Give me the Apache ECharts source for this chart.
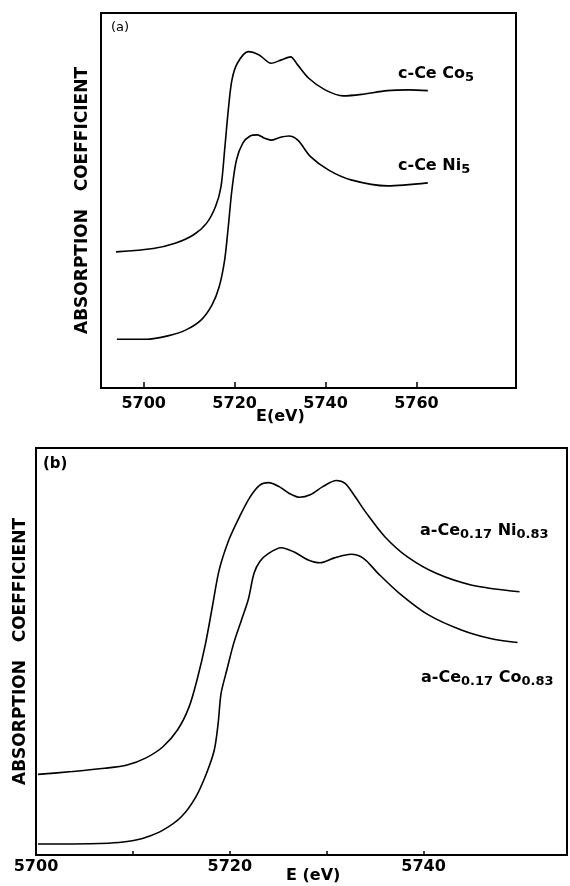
<!DOCTYPE html>
<html>
<head>
<meta charset="utf-8">
<script src="https://cdn.jsdelivr.net/npm/echarts@6/dist/echarts.min.js"></script>
<style>
    html, body { margin: 0; padding: 0; background: #fff; }
    #chart { width: 570px; height: 886px; }
</style>
</head>
<body>
<div id="chart"></div>
<script>
// (a) crystalline samples
var eCo5 = [5693.9, 5702.1, 5706.9, 5710.9, 5713.8, 5715.8, 5717.0, 5717.8, 5718.6, 5719.4, 5720.6, 5723.0, 5725.4, 5728.0, 5730.3, 5732.3, 5733.9, 5736.3, 5739.9, 5743.9, 5747.9, 5753.6, 5758.4, 5762.5];
var muCo5 = [36.3, 37.2, 38.6, 40.8, 43.9, 48.4, 53.7, 63.5, 74.1, 82.1, 86.6, 89.7, 88.8, 86.6, 87.5, 88.3, 86.1, 82.6, 79.5, 77.9, 78.3, 79.3, 79.5, 79.3];
var eNi5 = [5694.1, 5700.5, 5705.3, 5709.3, 5712.6, 5715.0, 5716.6, 5717.8, 5718.6, 5719.4, 5720.4, 5721.8, 5723.4, 5725.0, 5726.6, 5728.0, 5729.9, 5731.9, 5733.9, 5736.7, 5740.7, 5745.6, 5753.6, 5762.5];
var muNi5 = [13.0, 13.0, 13.9, 15.5, 18.1, 22.1, 27.0, 34.1, 43.0, 52.8, 60.8, 65.3, 67.2, 67.5, 66.6, 66.1, 66.8, 67.2, 66.1, 61.7, 58.1, 55.5, 53.9, 54.7];

// (b) amorphous samples
var eANi = [5700.2, 5703.7, 5707.1, 5709.4, 5711.3, 5713.1, 5714.6, 5715.8, 5716.7, 5717.5, 5718.2, 5718.9, 5719.9, 5721.0, 5722.1, 5723.1, 5724.0, 5725.1, 5726.1, 5727.2, 5728.3, 5729.6, 5731.0, 5731.9, 5732.8, 5734.1, 5736.0, 5738.3, 5741.3, 5745.0, 5749.9];
var muANi = [19.8, 20.5, 21.3, 22.1, 23.8, 26.6, 30.7, 36.4, 43.8, 52.0, 61.0, 70.0, 77.4, 83.1, 88.0, 90.9, 91.5, 90.5, 88.9, 87.9, 88.5, 90.5, 92.0, 91.3, 88.5, 84.0, 78.2, 73.3, 69.2, 66.3, 64.7];
var eACo = [5700.2, 5703.7, 5707.5, 5709.4, 5711.3, 5713.1, 5715.0, 5716.5, 5717.6, 5718.4, 5718.8, 5719.1, 5719.7, 5720.4, 5721.2, 5721.9, 5722.5, 5723.1, 5724.0, 5725.3, 5726.6, 5728.1, 5729.3, 5730.8, 5732.5, 5733.8, 5735.3, 5737.5, 5740.5, 5743.9, 5746.9, 5749.7];
var muACo = [2.7, 2.7, 2.9, 3.3, 4.3, 6.1, 9.4, 14.3, 20.1, 25.8, 32.4, 39.7, 45.5, 52.0, 57.7, 62.7, 69.2, 72.1, 74.1, 75.5, 74.5, 72.5, 71.8, 73.0, 73.9, 72.9, 69.2, 64.3, 59.0, 55.3, 53.2, 52.2];

var ticksA = [5700, 5720, 5740, 5760];
var ticksB = [5700, 5710, 5720, 5730, 5740];
var labelsB = [5700, 5720, 5740];

function pairs(xs, ys) {
    return xs.map(function(x, i) { return [x, ys[i]]; });
}

var font = 'DejaVu Sans';

function curve(idx, xs, ys) {
    return {
        type: 'line',
        xAxisIndex: idx,
        yAxisIndex: idx,
        data: pairs(xs, ys),
        smooth: 0.3,
        showSymbol: false,
        lineStyle: { color: '#000', width: 1.6 },
        silent: true
    };
}

function xAxisOf(idx, min, max, tickVals, labelVals, tickLen, margin) {
    return {
        type: 'value',
        gridIndex: idx,
        min: min,
        max: max,
        axisLine: { show: true, lineStyle: { color: '#000', width: 2 } },
        splitLine: { show: false },
        axisTick: { show: true, inside: true, length: tickLen, customValues: tickVals, lineStyle: { color: '#000', width: 1.5 } },
        axisLabel: {
            show: true,
            customValues: labelVals,
            formatter: function(v) { return String(v); },
            margin: margin,
            color: '#000',
            fontFamily: font,
            fontWeight: 'bold',
            fontSize: 16
        }
    };
}

function yAxisOf(idx, gap) {
    return {
        type: 'value',
        gridIndex: idx,
        min: 0,
        max: 100,
        axisLine: { show: true, lineStyle: { color: '#000', width: 2 } },
        axisTick: { show: false },
        axisLabel: { show: false },
        splitLine: { show: false },
        name: 'ABSORPTION   COEFFICIENT',
        nameLocation: 'middle',
        nameRotate: 90,
        nameGap: gap,
        nameTextStyle: { color: '#000', fontFamily: font, fontWeight: 'bold', fontSize: 17 }
    };
}

function subLabel(left, top, parts) {
    // parts: [text, sub, text, sub...]
    var txt = '';
    parts.forEach(function(p, i) {
        txt += (i % 2 === 0 ? '{m|' : '{s|') + p + '}';
    });
    return {
        type: 'text',
        left: left,
        top: top,
        style: {
            text: txt,
            rich: {
                m: { fontFamily: font, fontWeight: 'bold', fontSize: 16, fill: '#000', lineHeight: 20 },
                s: { fontFamily: font, fontWeight: 'bold', fontSize: 13, fill: '#000', lineHeight: 20, verticalAlign: 'bottom', padding: [9, 0, 0, 0] }
            }
        }
    };
}

var myChart = echarts.init(document.getElementById('chart'));

var option = {
    backgroundColor: '#fff',
    animation: false,
    grid: [
        { left: 101, top: 13, width: 415, height: 375, show: true, borderColor: '#000', borderWidth: 2, backgroundColor: 'transparent' },
        { left: 36, top: 448, width: 531, height: 407, show: true, borderColor: '#000', borderWidth: 2, backgroundColor: 'transparent' }
    ],
    xAxis: [
        xAxisOf(0, 5690.6, 5781.9, ticksA, ticksA, 6, 8),
        xAxisOf(1, 5700, 5754.8, ticksB, labelsB, 4, 4)
    ],
    yAxis: [
        yAxisOf(0, 10),
        yAxisOf(1, 7)
    ],
    series: [
        curve(0, eCo5, muCo5),
        curve(0, eNi5, muNi5),
        curve(1, eANi, muANi),
        curve(1, eACo, muACo)
    ],
    graphic: [
        { type: 'text', left: 111, top: 21, style: { text: '(a)', fontFamily: font, fontSize: 13, fill: '#000' } },
        { type: 'text', left: 43, top: 457, style: { text: '(b)', fontFamily: font, fontWeight: 'bold', fontSize: 15, fill: '#000' } },
        { type: 'text', left: 256, top: 409, style: { text: 'E(eV)', fontFamily: font, fontWeight: 'bold', fontSize: 16, fill: '#000' } },
        { type: 'text', left: 286, top: 868, style: { text: 'E (eV)', fontFamily: font, fontWeight: 'bold', fontSize: 16, fill: '#000' } },
        subLabel(398, 62, ['c-Ce Co', '5']),
        subLabel(398, 154, ['c-Ce Ni', '5']),
        subLabel(420, 519, ['a-Ce', '0.17', ' Ni', '0.83']),
        subLabel(421, 666, ['a-Ce', '0.17', ' Co', '0.83'])
    ]
};
myChart.setOption(option);
</script>
</body>
</html>
